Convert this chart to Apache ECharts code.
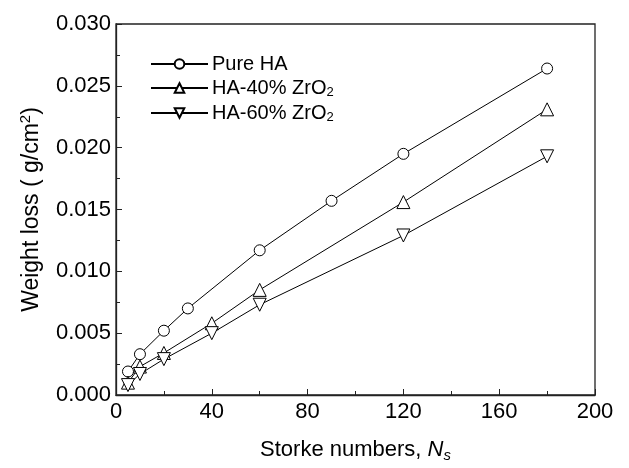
<!DOCTYPE html>
<html><head><meta charset="utf-8">
<script src="https://cdn.jsdelivr.net/npm/echarts@6/dist/echarts.min.js"></script>
<style>html,body{margin:0;padding:0;background:#fff}#c{width:629px;height:468px}</style>
</head><body><div id="c"></div>
<script>
const seriesNames = ['Pure HA', 'HA-40% ZrO2', 'HA-60% ZrO2'];
const pureHA_x = [5, 10, 20, 30, 60, 90, 120, 180];
const pureHA_y = [0.0019, 0.0033, 0.0052, 0.0070, 0.0117, 0.0157, 0.0195, 0.0264];
const ha40_x = [5, 10, 20, 40, 60, 120, 180];
const ha40_y = [0.0010, 0.0023, 0.0034, 0.0058, 0.0085, 0.0156, 0.0231];
const ha60_x = [5, 10, 20, 40, 60, 120, 180];
const ha60_y = [0.0008, 0.0017, 0.0029, 0.0050, 0.0073, 0.0129, 0.0193];

const FONT = '"Liberation Sans Narrow", "Liberation Sans", Arial, sans-serif';
const chart = echarts.init(document.getElementById('c'));
const zip = (xs, ys) => xs.map((x, i) => [x, ys[i]]);
const mk = (name, data, symbol, rot) => ({
  name, type: 'line', data, symbol, symbolSize: symbol === 'circle' ? 11 : 13,
  symbolRotate: rot || 0,
  lineStyle: {color: '#000', width: 1},
  itemStyle: {color: '#fff', borderColor: '#000', borderWidth: 1},
  emphasis: {disabled: true}, animation: false
});
chart.setOption({
  backgroundColor: '#fff',
  animation: false,
  grid: {left: 116, top: 24, width: 479, height: 375, show: true, borderColor: '#222', borderWidth: 1.3, backgroundColor: 'transparent'},
  legend: {
    left: 145, top: 49, orient: 'vertical', itemGap: 3, itemWidth: 57, itemHeight: 12,
    data: seriesNames,
    formatter: n => n.replace('ZrO2', 'ZrO{sub|2}'),
    textStyle: {fontFamily: FONT, fontSize: 20, lineHeight: 20, color: '#000', padding: [0, 0, 0, -1],
      rich: {sub: {fontFamily: FONT, fontSize: 13, lineHeight: 11, padding: [9, 0, 0, 0], color: '#000'}}}
  },
  xAxis: {
    type: 'value', min: 0, max: 200, interval: 40,
    name: 'Storke numbers, {it|N}{sub|s}', nameLocation: 'middle', nameGap: 41,
    nameTextStyle: {fontFamily: FONT, fontSize: 22, color: '#000',
      rich: {it: {fontFamily: FONT, fontSize: 22, fontStyle: 'italic', color: '#000'},
             sub: {fontFamily: FONT, fontSize: 15, fontStyle: 'italic', padding: [12, 0, 0, 0], color: '#000'}}},
    axisLine: {lineStyle: {color: '#222', width: 1.3}},
    axisTick: {inside: true, length: 6, lineStyle: {color: '#222'}},
    minorTick: {show: true, splitNumber: 2, length: 4, lineStyle: {color: '#222'}},
    axisLabel: {fontFamily: FONT, fontSize: 22, color: '#000', margin: 6},
    splitLine: {show: false}
  },
  yAxis: {
    type: 'value', min: 0, max: 0.030, interval: 0.005,
    name: 'Weight loss ( g/cm{sup|2})', nameLocation: 'middle', nameGap: 71, nameRotate: 90,
    nameTextStyle: {fontFamily: FONT, fontSize: 23, color: '#000', padding: [0, 0, 0, 0],
      rich: {sup: {fontFamily: FONT, fontSize: 15, padding: [0, 0, 12, 0], color: '#000'}}},
    axisLine: {lineStyle: {color: '#222', width: 1.3}},
    axisTick: {inside: true, length: 6, lineStyle: {color: '#222'}},
    minorTick: {show: true, splitNumber: 2, length: 4, lineStyle: {color: '#222'}},
    axisLabel: {fontFamily: FONT, fontSize: 22, color: '#000', margin: 5, formatter: v => v.toFixed(3)},
    splitLine: {show: false}
  },
  series: [
    mk(seriesNames[0], zip(pureHA_x, pureHA_y), 'circle'),
    mk(seriesNames[1], zip(ha40_x, ha40_y), 'triangle'),
    mk(seriesNames[2], zip(ha60_x, ha60_y), 'triangle', 180)
  ]
});
</script></body></html>
